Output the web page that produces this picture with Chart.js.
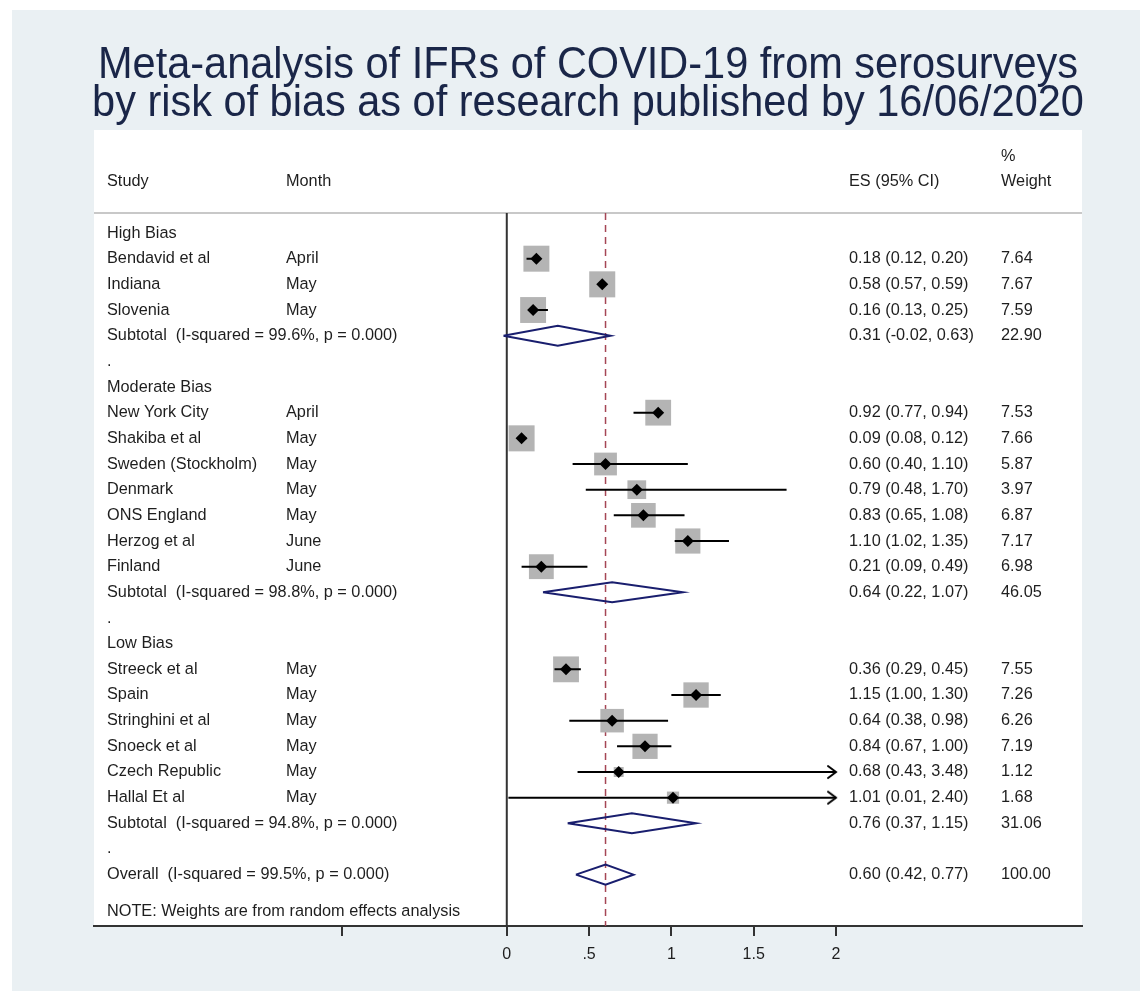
<!DOCTYPE html>
<html>
<head>
<meta charset="utf-8">
<title>Meta-analysis of IFRs of COVID-19</title>
<script src="https://cdn.jsdelivr.net/npm/chart.js@4.4.0/dist/chart.umd.min.js"></script>
<style>
  body { margin: 0; background: #fff; }
  canvas { display: block; }
</style>
</head>
<body>
<canvas id="chart" width="1140" height="991"></canvas>
<script>
// ---- data ----
var groups = ['High Bias', 'Moderate Bias', 'Low Bias'];
var groupSizes = [3, 7, 6];
var studies = ['Bendavid et al', 'Indiana', 'Slovenia',
  'New York City', 'Shakiba et al', 'Sweden (Stockholm)', 'Denmark', 'ONS England', 'Herzog et al', 'Finland',
  'Streeck et al', 'Spain', 'Stringhini et al', 'Snoeck et al', 'Czech Republic', 'Hallal Et al'];
var months = ['April', 'May', 'May',
  'April', 'May', 'May', 'May', 'May', 'June', 'June',
  'May', 'May', 'May', 'May', 'May', 'May'];
var es = [0.18, 0.58, 0.16, 0.92, 0.09, 0.60, 0.79, 0.83, 1.10, 0.21, 0.36, 1.15, 0.64, 0.84, 0.68, 1.01];
var lo = [0.12, 0.57, 0.13, 0.77, 0.08, 0.40, 0.48, 0.65, 1.02, 0.09, 0.29, 1.00, 0.38, 0.67, 0.43, 0.01];
var hi = [0.20, 0.59, 0.25, 0.94, 0.12, 1.10, 1.70, 1.08, 1.35, 0.49, 0.45, 1.30, 0.98, 1.00, 3.48, 2.40];
var weights = [7.64, 7.67, 7.59, 7.53, 7.66, 5.87, 3.97, 6.87, 7.17, 6.98, 7.55, 7.26, 6.26, 7.19, 1.12, 1.68];

var subEs = [0.31, 0.64, 0.76];
var subLo = [-0.02, 0.22, 0.37];
var subHi = [0.63, 1.07, 1.15];
var subWeights = [22.90, 46.05, 31.06];
var subI2 = ['99.6', '98.8', '94.8'];

var overallEs = 0.60, overallLo = 0.42, overallHi = 0.77, overallWeight = 100.00, overallI2 = '99.5';

var tickValues = [-1, 0, 0.5, 1, 1.5, 2];
var tickLabels = ['', '0', '.5', '1', '1.5', '2'];
var axisEnd = 2;   // CIs beyond this get an arrow

var titleLines = ['Meta-analysis of IFRs of COVID-19 from serosurveys',
  'by risk of bias as of research published by 16/06/2020'];

// ---- layout of the rows ----
var rows = [];
var studyRow = [], subRow = [];
function ciText(e, l, h) {
  return e.toFixed(2) + ' (' + l.toFixed(2) + ', ' + h.toFixed(2) + ')';
}
var r = 0, k = 0;
groups.forEach(function (g, gi) {
  rows.push({ y: r++, label: g });
  for (var j = 0; j < groupSizes[gi]; j++, k++) {
    studyRow[k] = r;
    rows.push({ y: r++, label: studies[k], month: months[k], ci: ciText(es[k], lo[k], hi[k]), w: weights[k].toFixed(2) });
  }
  subRow[gi] = r;
  rows.push({ y: r++, label: 'Subtotal  (I-squared = ' + subI2[gi] + '%, p = 0.000)',
    ci: ciText(subEs[gi], subLo[gi], subHi[gi]), w: subWeights[gi].toFixed(2) });
  rows.push({ y: r++, label: '.' });
});
var overallRow = r;
rows.push({ y: r, label: 'Overall  (I-squared = ' + overallI2 + '%, p = 0.000)',
  ci: ciText(overallEs, overallLo, overallHi), w: overallWeight.toFixed(2) });
rows.push({ y: r + 1.45, label: 'NOTE: Weights are from random effects analysis' });

var yMin = -0.78, yMax = 27.0;
var halfDiamond = 0.39;

// ---- datasets ----
var boxData = es.map(function (v, i) { return { x: v, y: studyRow[i], w: weights[i] }; });
var pointData = es.map(function (v, i) { return { x: v, y: studyRow[i] }; });
var ciData = [];
es.forEach(function (v, i) {
  ciData.push({ x: lo[i], y: studyRow[i] });
  ciData.push({ x: Math.min(hi[i], axisEnd), y: studyRow[i] });
  ciData.push({ x: null, y: null });
});
var arrowData = [];
hi.forEach(function (v, i) {
  if (v > axisEnd) arrowData.push({ x: axisEnd, y: studyRow[i] });
});
var diamondData = [];
function addDiamond(e, l, h, row) {
  diamondData.push({ x: l, y: row }, { x: e, y: row - halfDiamond }, { x: h, y: row },
    { x: e, y: row + halfDiamond }, { x: l, y: row }, { x: null, y: null });
}
subEs.forEach(function (v, i) { addDiamond(v, subLo[i], subHi[i], subRow[i]); });
addDiamond(overallEs, overallLo, overallHi, overallRow);

// open arrow head used as a point style
var arrowHead = document.createElement('canvas');
arrowHead.width = 20; arrowHead.height = 16;
(function () {
  var c = arrowHead.getContext('2d');
  c.strokeStyle = '#000'; c.lineWidth = 2; c.lineCap = 'round';
  c.beginPath(); c.moveTo(2, 2); c.lineTo(10, 8); c.lineTo(2, 14); c.stroke();
})();

var font = '"Liberation Sans", Arial, sans-serif';
var textSize = 16.3;

var framePlugin = {
  id: 'frame',
  beforeDraw: function (chart) {
    var ctx = chart.ctx, a = chart.chartArea;
    ctx.save();
    ctx.fillStyle = '#ffffff';
    ctx.fillRect(0, 0, chart.width, chart.height);
    ctx.fillStyle = 'rgb(234,240,243)';
    ctx.fillRect(12, 10, chart.width - 12, chart.height - 10);
    ctx.fillStyle = '#ffffff';
    ctx.fillRect(a.left, 130, a.right - a.left, a.bottom - 130);
    ctx.strokeStyle = 'rgb(200,200,200)';
    ctx.lineWidth = 2;
    ctx.beginPath(); ctx.moveTo(a.left, a.top); ctx.lineTo(a.right, a.top); ctx.stroke();

    // title, narrowed to the width it has in the original
    ctx.fillStyle = 'rgb(26,38,72)';
    ctx.textBaseline = 'middle';
    ctx.textAlign = 'center';
    ctx.font = '44px "Liberation Sans Narrow", "Arial Narrow", ' + font;
    var sx = 980 / ctx.measureText(titleLines[0]).width;
    var cx = (a.left + a.right) / 2;
    [66, 104].forEach(function (ty, i) {
      ctx.save();
      ctx.translate(cx, ty);
      ctx.scale(sx, 1);
      ctx.fillText(titleLines[i], 0, 0);
      ctx.restore();
    });
    ctx.restore();
  },
  afterDraw: function (chart) {
    var ctx = chart.ctx, y = chart.scales.y;
    ctx.save();
    ctx.font = textSize + 'px ' + font;
    ctx.fillStyle = '#1e1e1e';
    ctx.textBaseline = 'middle';
    ctx.textAlign = 'left';
    var hy = y.getPixelForValue(-2);
    ctx.fillText('Study', 107, hy);
    ctx.fillText('Month', 286, hy);
    ctx.fillText('ES (95% CI)', 849, hy);
    ctx.fillText('%', 1001, y.getPixelForValue(-3));
    ctx.fillText('Weight', 1001, hy);
    rows.forEach(function (row) {
      var py = y.getPixelForValue(row.y);
      ctx.fillText(row.label, 107, py);
      if (row.month) ctx.fillText(row.month, 286, py);
      if (row.ci) ctx.fillText(row.ci, 849, py);
      if (row.w) ctx.fillText(row.w, 1001, py);
    });
    ctx.restore();
  }
};

new Chart(document.getElementById('chart').getContext('2d'), {
  type: 'scatter',
  data: {
    datasets: [
      { label: 'estimate', data: pointData, pointStyle: 'rectRot', pointRadius: 6,
        backgroundColor: '#000', borderColor: '#000', borderWidth: 0 },
      { label: 'arrow', data: arrowData, pointStyle: arrowHead, pointRadius: 10 },
      { label: 'ci', type: 'line', data: ciData, showLine: true, spanGaps: false,
        borderColor: '#000', borderWidth: 2, pointRadius: 0 },
      { label: 'box', data: boxData, pointStyle: 'rect', backgroundColor: 'rgb(180,180,180)', borderWidth: 0,
        pointRadius: function (c) { return c.raw ? 9.4 * Math.sqrt(c.raw.w) / Math.SQRT2 : 0; } },
      { label: 'pooled', type: 'line', data: diamondData, showLine: true, spanGaps: false,
        borderColor: 'rgb(25,30,110)', borderWidth: 2, pointRadius: 0, fill: false },
      { label: 'overall line', type: 'line', data: [{ x: overallEs, y: yMin }, { x: overallEs, y: yMax }],
        borderColor: 'rgb(165,70,85)', borderWidth: 1.5, borderDash: [7, 5], pointRadius: 0 },
      { label: 'null line', type: 'line', data: [{ x: 0, y: yMin }, { x: 0, y: yMax }],
        borderColor: '#333', borderWidth: 2, pointRadius: 0 }
    ]
  },
  options: {
    responsive: false,
    animation: false,
    layout: { padding: { top: 213, left: 94, right: 58, bottom: 0 } },
    plugins: { legend: { display: false }, tooltip: { enabled: false }, title: { display: false } },
    scales: {
      x: {
        type: 'linear', min: -2.508, max: 3.495,
        afterBuildTicks: function (scale) { scale.ticks = tickValues.map(function (v) { return { value: v }; }); },
        afterFit: function (scale) { scale.height = 65; },
        grid: { display: true, drawOnChartArea: false, drawTicks: true, tickLength: 10, color: '#333', lineWidth: 2 },
        border: { display: true, color: '#333', width: 2 },
        ticks: {
          autoSkip: false, maxRotation: 0, padding: 9, color: '#1e1e1e',
          font: { family: font, size: 16 },
          callback: function (v) { return tickLabels[tickValues.indexOf(v)]; }
        }
      },
      y: { type: 'linear', min: yMin, max: yMax, reverse: true, display: false }
    }
  },
  plugins: [framePlugin]
});
</script>
</body>
</html>
